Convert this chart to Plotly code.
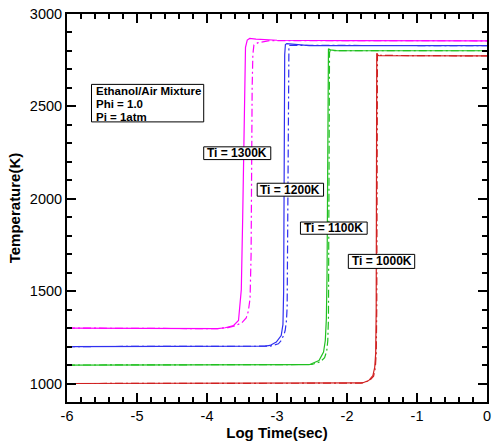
import plotly.graph_objects as go

# ---- data (log10 time [s], temperature [K]) ----
t1300_solid_x = [-6, -5, -4.5, -4.02, -3.85, -3.74, -3.62, -3.55, -3.51, -3.49, -3.475, -3.46, -3.45, -3.425, -3.39, -3.3, -3.0, -2.0, 0]
t1300_solid_y = [1300, 1299, 1297, 1294, 1297, 1302, 1314, 1341, 1508, 1900, 2300, 2750, 2820, 2859, 2868, 2864, 2858, 2856, 2855]
t1300_dash_x = [-6, -5, -4.5, -4.02, -3.85, -3.7, -3.6, -3.5, -3.44, -3.41, -3.385, -3.37, -3.364, -3.355, -3.345, -3.33, -3.27, -3.1, -2.0, 0]
t1300_dash_y = [1300, 1299, 1297, 1294, 1297, 1303, 1312, 1330, 1355, 1390, 1460, 1700, 2200, 2600, 2780, 2832, 2845, 2856, 2856, 2855]

t1200_solid_x = [-6, -4, -3.3, -3.17, -3.10, -3.01, -2.94, -2.915, -2.905, -2.9, -2.895, -2.89, -2.88, -2.86, -2.7, -2.54, 0]
t1200_solid_y = [1200, 1200, 1200, 1202, 1206, 1224, 1260, 1320, 1500, 2000, 2500, 2780, 2835, 2840, 2834, 2829, 2829]
t1200_dash_x = [-6, -4, -3.1, -2.98, -2.94, -2.9, -2.883, -2.865, -2.855, -2.848, -2.843, -2.838, -2.83, -2.82, -2.7, 0]
t1200_dash_y = [1200, 1200, 1202, 1215, 1233, 1265, 1287, 1340, 1416, 1800, 2300, 2700, 2810, 2830, 2830, 2829]

t1100_solid_x = [-6, -2.7, -2.54, -2.40, -2.335, -2.31, -2.295, -2.285, -2.278, -2.275, -2.272, -2.265, -2.24, -2.15, 0]
t1100_solid_y = [1100, 1100, 1102, 1125, 1170, 1233, 1350, 1600, 2200, 2700, 2790, 2812, 2806, 2802, 2801]
t1100_dash_x = [-6, -2.7, -2.5, -2.38, -2.32, -2.29, -2.275, -2.265, -2.26, -2.257, -2.254, -2.25, -2.24, -2.2, 0]
t1100_dash_y = [1100, 1100, 1103, 1118, 1140, 1175, 1230, 1350, 1700, 2300, 2700, 2790, 2803, 2802, 2801]

t1000_solid_x = [-6, -2.0, -1.85, -1.78, -1.69, -1.63, -1.604, -1.59, -1.583, -1.58, -1.578, -1.577, -1.575, -1.565, -1.545, 0]
t1000_solid_y = [1000, 1000, 1001, 1003, 1016, 1043, 1088, 1163, 1400, 2000, 2600, 2770, 2787, 2780, 2774, 2773]
t1000_dash_x = [-6, -2.0, -1.8, -1.68, -1.62, -1.595, -1.582, -1.575, -1.572, -1.570, -1.568, -1.565, -1.55, 0]
t1000_dash_y = [1000, 1000, 1002, 1015, 1040, 1085, 1170, 1400, 2000, 2600, 2770, 2785, 2776, 2773]

series_names = ["Ti = 1300K", "Ti = 1200K", "Ti = 1100K", "Ti = 1000K"]
series_colors = ["#ff00ff", "#3030f0", "#20c020", "#d02020"]

x_ticks = [-6, -5, -4, -3, -2, -1, 0]
y_ticks = [1000, 1500, 2000, 2500, 3000]

info_lines = ["Ethanol/Air Mixture", "Phi = 1.0", "Pi = 1atm"]
x_title = "Log Time(sec)"
y_title = "Temperature(K)"

FONT = "Liberation Sans, Arial, sans-serif"

solids = [(t1300_solid_x, t1300_solid_y), (t1200_solid_x, t1200_solid_y),
          (t1100_solid_x, t1100_solid_y), (t1000_solid_x, t1000_solid_y)]
dashes = [(t1300_dash_x, t1300_dash_y), (t1200_dash_x, t1200_dash_y),
          (t1100_dash_x, t1100_dash_y), (t1000_dash_x, t1000_dash_y)]

fig = go.Figure()
for (sx, sy), (dx, dy), name, col in zip(solids, dashes, series_names, series_colors):
    fig.add_trace(go.Scatter(x=sx, y=sy, mode="lines", name=name,
                             line=dict(color=col, width=1.2), showlegend=False))
    fig.add_trace(go.Scatter(x=dx, y=dy, mode="lines", name=name,
                             line=dict(color=col, width=1.2, dash="8px,3px,2px,3px"),
                             showlegend=False))

# label boxes (x0, x1, y0, y1 in data units)
label_boxes = [(-4.047, -3.089, 2212, 2281), (-3.283, -2.335, 2014, 2084),
               (-2.665, -1.712, 1808, 1874), (-1.981, -1.033, 1623, 1699)]
for (x0, x1, y0, y1), name in zip(label_boxes, series_names):
    fig.add_shape(type="rect", xref="x", yref="y", x0=x0, x1=x1, y0=y0, y1=y1,
                  fillcolor="white", line=dict(color="black", width=1), layer="above")
    fig.add_annotation(x=(x0 + x1) / 2, y=(y0 + y1) / 2, xref="x", yref="y",
                       text="<b>" + name + "</b>", showarrow=False,
                       font=dict(family=FONT, size=12, color="black"))

# info box
fig.add_shape(type="rect", xref="x", yref="y", x0=-5.65, x1=-4.047, y0=2416, y1=2619,
              fillcolor="white", line=dict(color="black", width=1), layer="above")
for line_text, yy in zip(info_lines, [2582, 2512, 2442]):
    fig.add_annotation(x=-5.615, y=yy, xref="x", yref="y", text="<b>" + line_text + "</b>",
                       showarrow=False, xanchor="left",
                       font=dict(family=FONT, size=11.5, color="black"))

axis_common = dict(
    showline=True, linecolor="black", linewidth=2, mirror="ticks",
    ticks="inside", ticklen=9, tickwidth=2, tickcolor="black",
    showgrid=False, zeroline=False,
    tickfont=dict(family=FONT, size=14.5, color="black"),
)

fig.update_xaxes(range=[-6, 0], tickvals=x_ticks, ticktext=[str(v) for v in x_ticks],
                 minor=dict(dtick=0.2, ticks="inside", ticklen=5, tickwidth=1.5, tickcolor="black"),
                 title=dict(text="<b>" + x_title + "</b>", standoff=0,
                            font=dict(family=FONT, size=15, color="black")),
                 **axis_common)
fig.update_yaxes(range=[900, 3000], tickvals=y_ticks, ticktext=[str(v) for v in y_ticks],
                 minor=dict(dtick=100, tick0=900, ticks="inside", ticklen=5, tickwidth=1.5, tickcolor="black"),
                 title=dict(text="<b>" + y_title + "</b>", standoff=6,
                            font=dict(family=FONT, size=15, color="black")),
                 **axis_common)

fig.update_layout(width=495, height=441, margin=dict(l=67, r=4, t=14, b=39),
                  paper_bgcolor="white", plot_bgcolor="white",
                  font=dict(family=FONT, color="black"))

fig.write_html("out.html", config={"displayModeBar": False},
               post_script="document.body.style.margin='0';document.body.style.overflow='hidden';")
